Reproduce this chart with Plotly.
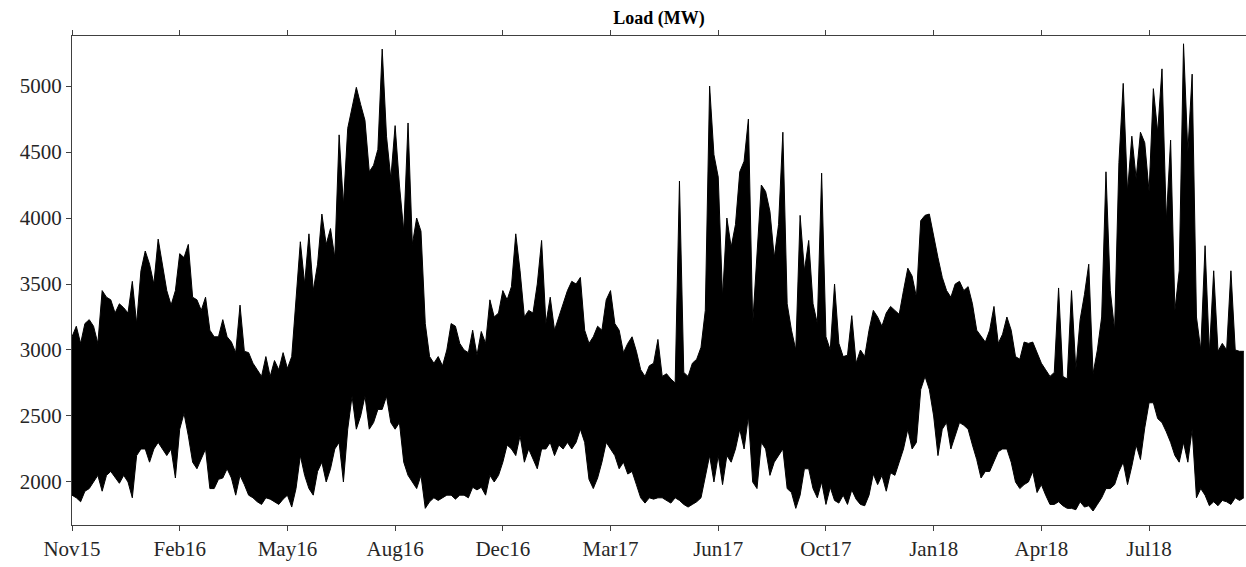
import datetime as dt
import plotly.graph_objects as go

# Sampling grid: one envelope sample every 4 days starting 1 Nov 2015
start_date = dt.datetime(2015, 11, 1)
step_days = 4

# Upper envelope (peak load, MW) per 4-day block
peak_load = [
    3100, 3180, 3050, 3200, 3230, 3180, 3050, 3450, 3400, 3380, 3280, 3350, 3320, 3280, 3520, 3200, 3600, 3750, 3650, 3500, 3840, 3650, 3450,
    3340, 3450, 3730, 3700, 3800, 3400, 3380, 3300, 3400, 3150, 3100, 3100, 3230, 3100, 3060, 2980, 3340, 2990, 2980, 2900, 2850, 2800, 2950,
    2800, 2920, 2850, 2980, 2860, 2950, 3400, 3820, 3500, 3880, 3450, 3650, 4030, 3800, 3920, 3700, 4630, 4100, 4680, 4830, 4990, 4860, 4740,
    4350, 4400, 4520, 5280, 4620, 4300, 4700, 4250, 3900, 4720, 3800, 4000, 3900, 3200, 2950, 2900, 2950, 2880, 3000, 3200, 3180, 3050, 3000,
    2980, 3150, 2960, 3140, 3050, 3380, 3250, 3280, 3450, 3380, 3480, 3880, 3600, 3250, 3300, 3280, 3500, 3830, 3200, 3400, 3150, 3250,
    3350, 3450, 3520, 3500, 3550, 3150, 3050, 3100, 3180, 3150, 3380, 3450, 3200, 3150, 2980, 3050, 3100, 2990, 2850, 2800, 2880, 2900, 3080,
    2800, 2820, 2780, 2750, 4280, 2830, 2800, 2900, 2930, 3020, 3300, 5000, 4480, 4310, 3400, 4000, 3780, 3950, 4350, 4430, 4750, 3200, 3740,
    4250, 4200, 4050, 3700, 3950, 4650, 3350, 3150, 3000, 4020, 3600, 3830, 3350, 3200, 4340, 3100, 3000, 3500, 3050, 2950, 2960, 3260, 2900,
    3000, 2950, 3150, 3300, 3250, 3180, 3280, 3330, 3300, 3270, 3450, 3620, 3560, 3400, 3980, 4020, 4030, 3850, 3700, 3550, 3450, 3400,
    3500, 3520, 3450, 3480, 3350, 3150, 3100, 3060, 3150, 3330, 3050, 3120, 3250, 3150, 2950, 2930, 3060, 3050, 3060, 2980, 2900, 2850, 2800,
    2830, 3470, 2800, 2780, 3450, 2850, 3230, 3420, 3650, 2820, 3000, 3250, 4350, 3450, 3150, 4420, 5020, 4200, 4620, 4300, 4650, 4570, 4200,
    4980, 4650, 5130, 3980, 4590, 3300, 3600, 5320, 4500, 5090, 3250, 3000, 3790, 2980, 3600, 2990, 3050, 3000, 3600, 3000, 2990, 2990,
]

# Lower envelope (minimum load, MW) per 4-day block
min_load = [
    1900, 1880, 1850, 1930, 1950, 2000, 2050, 1930, 2050, 2080, 2030, 1990, 2050, 2000, 1880, 2200, 2250, 2250, 2150, 2250, 2300, 2250, 2200,
    2250, 2030, 2400, 2520, 2350, 2150, 2100, 2180, 2250, 1950, 1950, 2020, 2030, 2100, 2030, 1900, 2050, 1980, 1900, 1880, 1850, 1830, 1880,
    1870, 1850, 1830, 1870, 1900, 1810, 1950, 2200, 2050, 1950, 1900, 2080, 2150, 2000, 2100, 2250, 2300, 2000, 2400, 2650, 2400, 2500, 2650,
    2400, 2450, 2550, 2550, 2650, 2450, 2400, 2450, 2150, 2050, 2000, 1950, 2050, 1800, 1850, 1880, 1860, 1880, 1900, 1900, 1870, 1900, 1900,
    1880, 1960, 1940, 1960, 1900, 2050, 2000, 2050, 2150, 2280, 2250, 2200, 2350, 2150, 2250, 2180, 2100, 2250, 2250, 2300, 2200, 2280,
    2250, 2300, 2250, 2300, 2400, 2300, 2020, 1950, 2030, 2150, 2300, 2250, 2200, 2100, 2150, 2060, 2080, 1980, 1880, 1840, 1880, 1870, 1880,
    1880, 1860, 1840, 1880, 1860, 1830, 1810, 1830, 1850, 1880, 2050, 2200, 2000, 2200, 1980, 2200, 2150, 2250, 2400, 2250, 2500, 2000, 1950,
    2300, 2250, 2050, 2150, 2200, 2250, 1950, 1920, 1800, 1900, 2100, 2100, 1950, 1880, 2000, 1830, 1960, 1860, 1840, 1900, 1830, 1940, 1870,
    1830, 1820, 1900, 2060, 1980, 2050, 1930, 2070, 2050, 2150, 2250, 2400, 2250, 2300, 2700, 2800, 2700, 2500, 2200, 2400, 2450, 2250,
    2350, 2450, 2430, 2400, 2280, 2170, 2030, 2080, 2080, 2150, 2230, 2250, 2250, 2150, 2000, 1950, 1980, 2000, 2080, 1920, 1980, 1900, 1830,
    1830, 1850, 1820, 1800, 1800, 1790, 1850, 1810, 1820, 1780, 1830, 1880, 1950, 1950, 1980, 2080, 2150, 1980, 2120, 2280, 2170, 2410, 2600,
    2600, 2480, 2450, 2380, 2300, 2200, 2150, 2300, 2150, 2400, 1880, 1950, 1900, 1820, 1850, 1820, 1860, 1850, 1830, 1880, 1860, 1880,
]

tick_labels = ["Nov15", "Feb16", "May16", "Aug16", "Dec16", "Mar17",
               "Jun17", "Oct17", "Jan18", "Apr18", "Jul18"]
tick_step_days = 100
y_ticks = [2000, 2500, 3000, 3500, 4000, 4500, 5000]

n = min(len(peak_load), len(min_load))
x = [start_date + dt.timedelta(days=step_days * i) for i in range(n)]
tick_vals = [start_date + dt.timedelta(days=tick_step_days * k) for k in range(len(tick_labels))]
x_end = start_date + dt.timedelta(days=1090)

fig = go.Figure()
fig.add_trace(go.Scatter(x=x, y=min_load[:n], mode="lines",
                         line=dict(color="black", width=1), showlegend=False,
                         hoverinfo="skip"))
fig.add_trace(go.Scatter(x=x, y=peak_load[:n], mode="lines", fill="tonexty",
                         fillcolor="black", line=dict(color="black", width=1),
                         showlegend=False))

axis_color = "#404040"
font_family = "Liberation Serif, Times New Roman, serif"

fig.update_layout(
    width=1246, height=567,
    margin=dict(l=72, r=0, t=36, b=42),
    paper_bgcolor="white", plot_bgcolor="white",
    font=dict(family=font_family, size=21, color="#262626"),
    title=dict(text="<b>Load (MW)</b>", x=0.5, xref="paper", xanchor="center",
               y=1 - 18 / 567, yref="container", yanchor="middle",
               font=dict(family=font_family, size=18, color="black")),
    xaxis=dict(range=[start_date, x_end], tickmode="array", tickvals=tick_vals,
               ticktext=tick_labels, showgrid=False, zeroline=False,
               showline=True, linecolor=axis_color, linewidth=1,
               mirror="ticks", ticks="outside", ticklen=5, tickcolor=axis_color,
               tickfont=dict(size=21, color="#262626")),
    yaxis=dict(range=[1674, 5379], tickmode="array", tickvals=y_ticks,
               showgrid=False, zeroline=False, showline=True,
               linecolor=axis_color, linewidth=1, mirror=False,
               ticks="outside", ticklen=5, tickcolor=axis_color,
               tickfont=dict(size=21, color="#262626")),
)

fig.write_html("out.html")
